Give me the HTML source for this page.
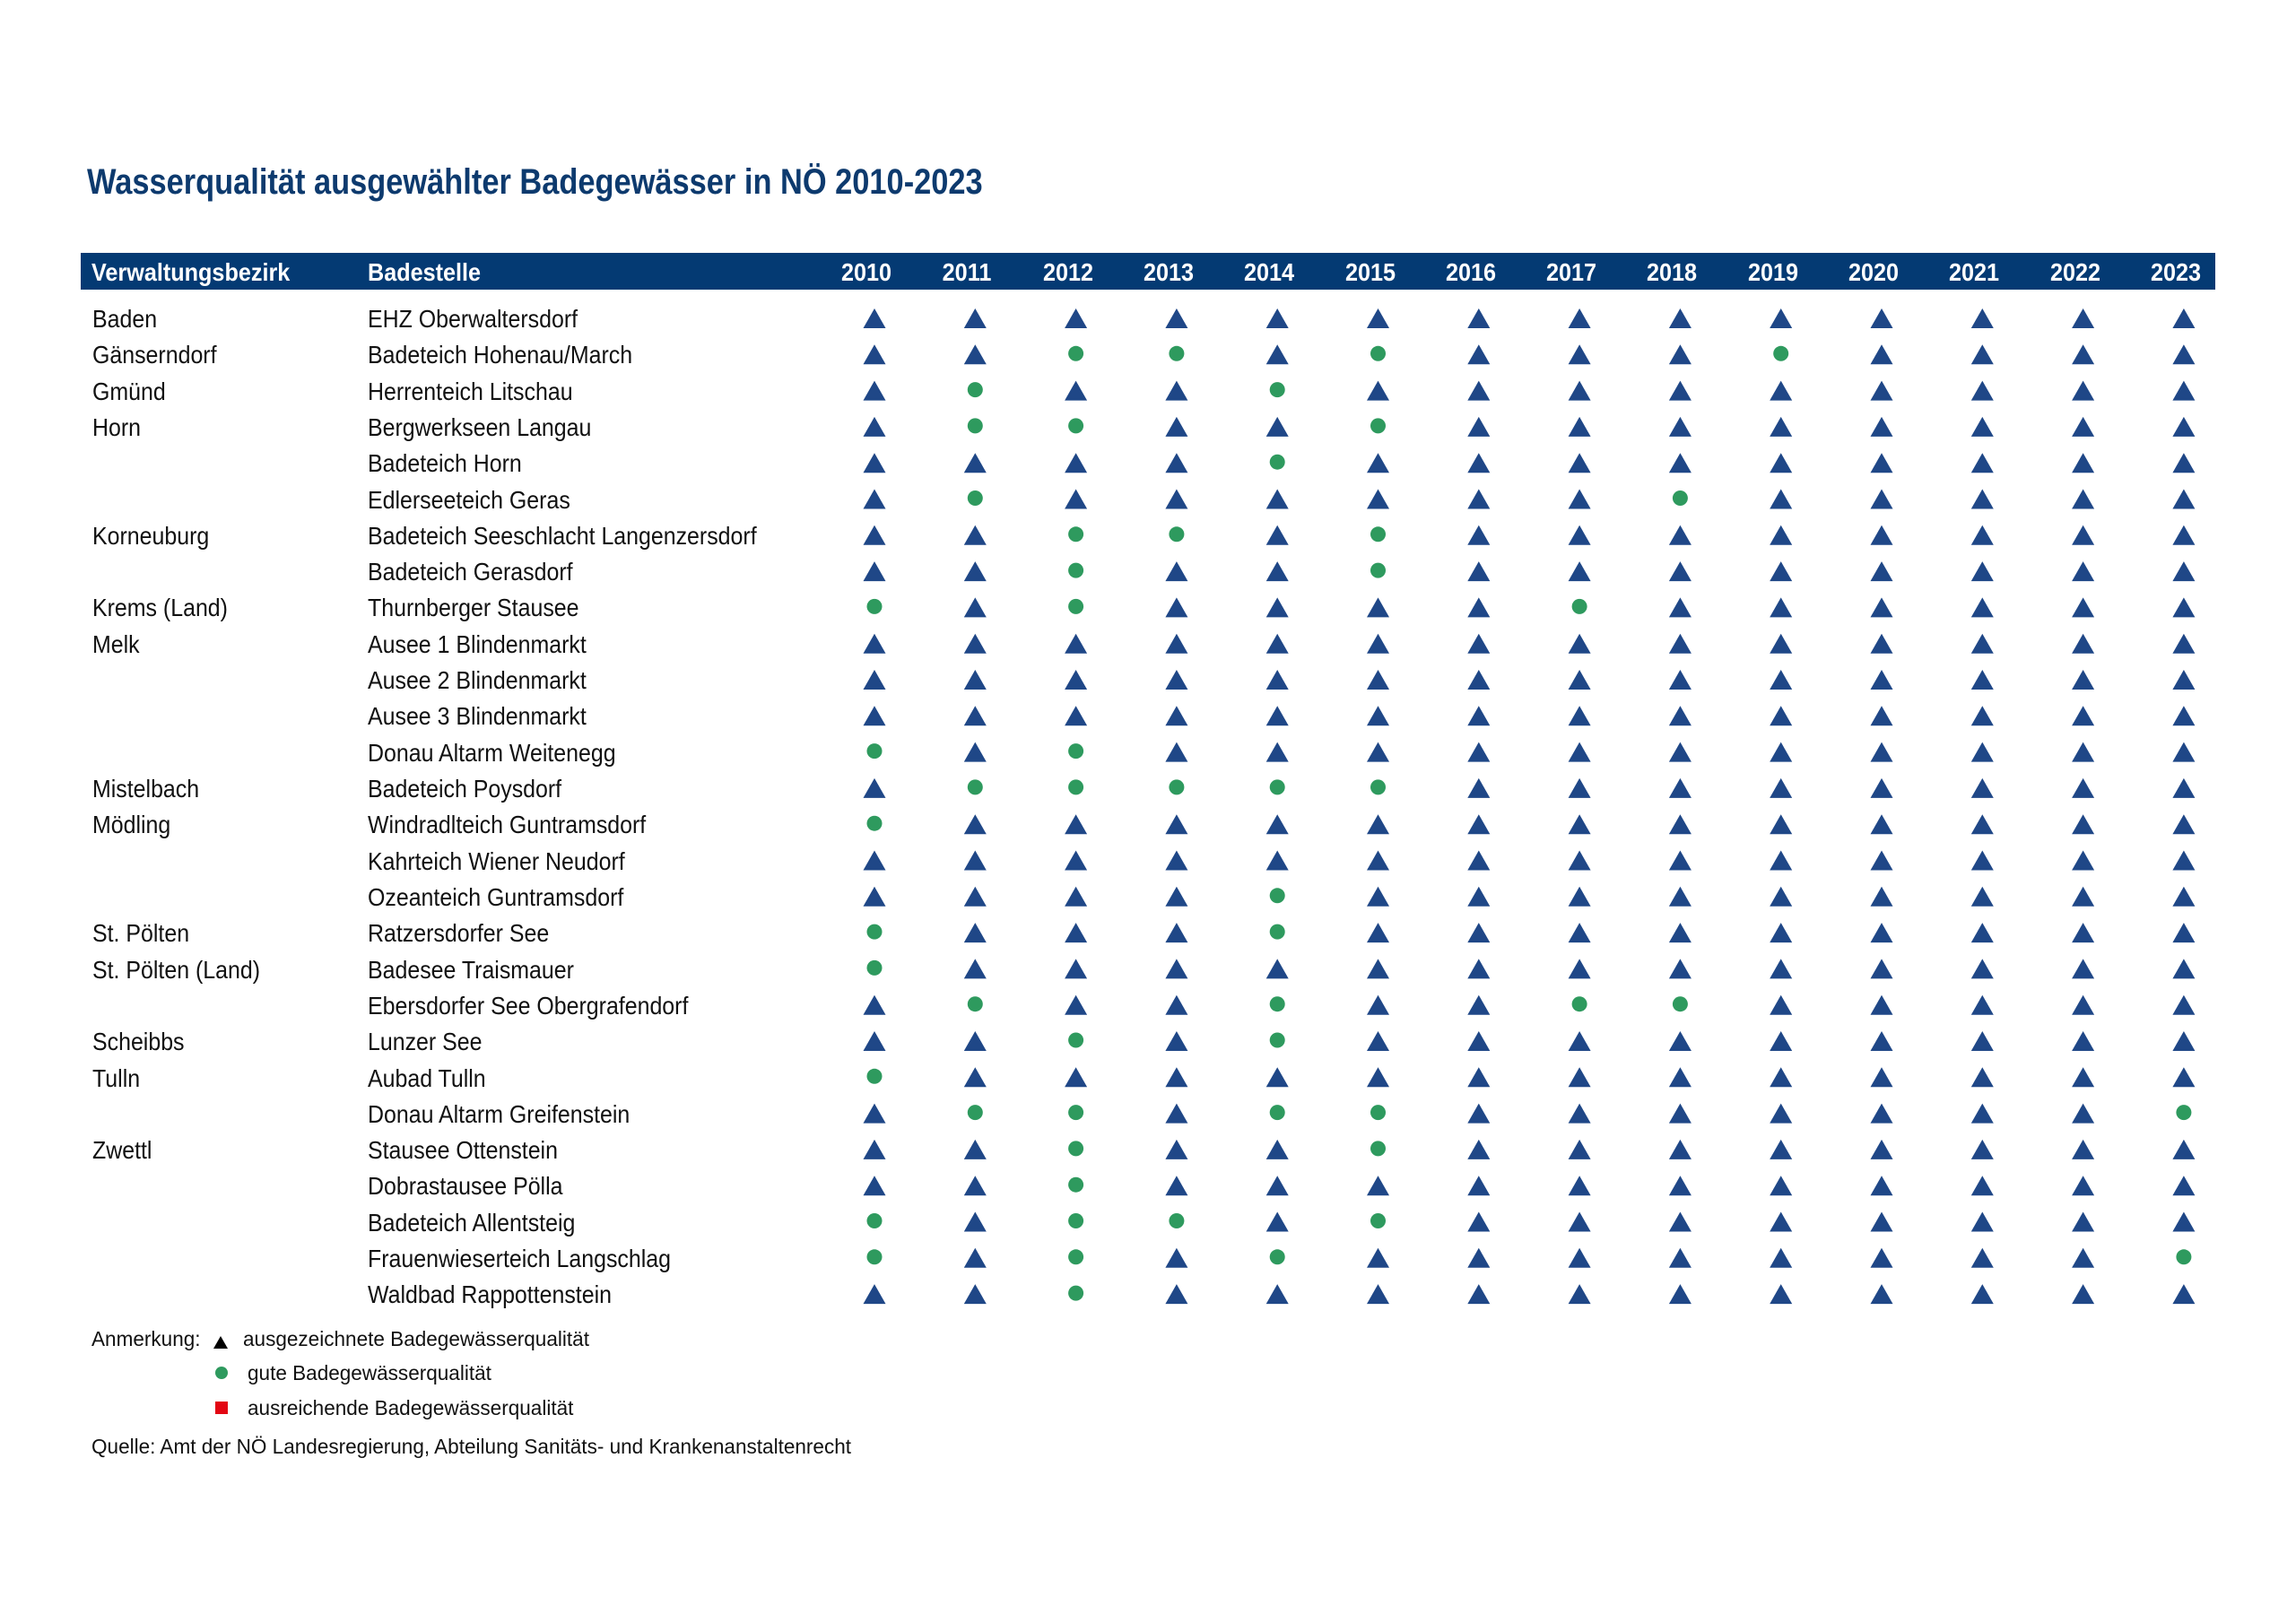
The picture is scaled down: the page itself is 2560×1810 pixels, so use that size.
<!DOCTYPE html>
<html><head><meta charset="utf-8">
<style>
html,body{margin:0;padding:0;background:#fff;}
body{width:2560px;height:1810px;position:relative;overflow:hidden;font-family:"Liberation Sans",sans-serif;}
.t{position:absolute;white-space:nowrap;color:#111;font-size:28px;line-height:1;transform:scaleX(0.89);transform-origin:0 0;margin-top:-3px;}
#title{position:absolute;left:97px;top:181px;font-size:40px;font-weight:bold;color:#0d3a6e;white-space:nowrap;transform:scaleX(0.86);transform-origin:0 0;}
#bar{position:absolute;left:90px;top:282px;width:2380px;height:41px;background:#043a73;}
.h{position:absolute;top:290px;color:#fff;font-weight:bold;font-size:28px;line-height:1;white-space:nowrap;transform:scaleX(0.9);transform-origin:0 0;}
.y{width:100px;margin-left:-50px;text-align:center;transform-origin:50% 0;}
.l{position:absolute;white-space:nowrap;color:#111;font-size:23px;line-height:1;transform:scaleX(0.98);transform-origin:0 0;margin-top:-6px;}
svg{position:absolute;left:0;top:0;}
</style></head><body>
<div id="title">Wasserqualität ausgewählter Badegewässer in NÖ 2010-2023</div>
<div id="bar"></div>
<div class="h" style="left:102px">Verwaltungsbezirk</div>
<div class="h" style="left:410px">Badestelle</div>
<div class="h y" style="left:966px">2010</div>
<div class="h y" style="left:1078px">2011</div>
<div class="h y" style="left:1191px">2012</div>
<div class="h y" style="left:1303px">2013</div>
<div class="h y" style="left:1415px">2014</div>
<div class="h y" style="left:1528px">2015</div>
<div class="h y" style="left:1640px">2016</div>
<div class="h y" style="left:1752px">2017</div>
<div class="h y" style="left:1864px">2018</div>
<div class="h y" style="left:1977px">2019</div>
<div class="h y" style="left:2089px">2020</div>
<div class="h y" style="left:2201px">2021</div>
<div class="h y" style="left:2314px">2022</div>
<div class="h y" style="left:2426px">2023</div>

<div class="t" style="left:103px;top:345px">Baden</div><div class="t" style="left:410px;top:345px">EHZ Oberwaltersdorf</div>
<div class="t" style="left:103px;top:385px">Gänserndorf</div><div class="t" style="left:410px;top:385px">Badeteich Hohenau/March</div>
<div class="t" style="left:103px;top:426px">Gmünd</div><div class="t" style="left:410px;top:426px">Herrenteich Litschau</div>
<div class="t" style="left:103px;top:466px">Horn</div><div class="t" style="left:410px;top:466px">Bergwerkseen Langau</div>
<div class="t" style="left:410px;top:506px">Badeteich Horn</div>
<div class="t" style="left:410px;top:547px">Edlerseeteich Geras</div>
<div class="t" style="left:103px;top:587px">Korneuburg</div><div class="t" style="left:410px;top:587px">Badeteich Seeschlacht Langenzersdorf</div>
<div class="t" style="left:410px;top:627px">Badeteich Gerasdorf</div>
<div class="t" style="left:103px;top:667px">Krems (Land)</div><div class="t" style="left:410px;top:667px">Thurnberger Stausee</div>
<div class="t" style="left:103px;top:708px">Melk</div><div class="t" style="left:410px;top:708px">Ausee 1 Blindenmarkt</div>
<div class="t" style="left:410px;top:748px">Ausee 2 Blindenmarkt</div>
<div class="t" style="left:410px;top:788px">Ausee 3 Blindenmarkt</div>
<div class="t" style="left:410px;top:829px">Donau Altarm Weitenegg</div>
<div class="t" style="left:103px;top:869px">Mistelbach</div><div class="t" style="left:410px;top:869px">Badeteich Poysdorf</div>
<div class="t" style="left:103px;top:909px">Mödling</div><div class="t" style="left:410px;top:909px">Windradlteich Guntramsdorf</div>
<div class="t" style="left:410px;top:950px">Kahrteich Wiener Neudorf</div>
<div class="t" style="left:410px;top:990px">Ozeanteich Guntramsdorf</div>
<div class="t" style="left:103px;top:1030px">St. Pölten</div><div class="t" style="left:410px;top:1030px">Ratzersdorfer See</div>
<div class="t" style="left:103px;top:1071px">St. Pölten (Land)</div><div class="t" style="left:410px;top:1071px">Badesee Traismauer</div>
<div class="t" style="left:410px;top:1111px">Ebersdorfer See Obergrafendorf</div>
<div class="t" style="left:103px;top:1151px">Scheibbs</div><div class="t" style="left:410px;top:1151px">Lunzer See</div>
<div class="t" style="left:103px;top:1192px">Tulln</div><div class="t" style="left:410px;top:1192px">Aubad Tulln</div>
<div class="t" style="left:410px;top:1232px">Donau Altarm Greifenstein</div>
<div class="t" style="left:103px;top:1272px">Zwettl</div><div class="t" style="left:410px;top:1272px">Stausee Ottenstein</div>
<div class="t" style="left:410px;top:1312px">Dobrastausee Pölla</div>
<div class="t" style="left:410px;top:1353px">Badeteich Allentsteig</div>
<div class="t" style="left:410px;top:1393px">Frauenwieserteich Langschlag</div>
<div class="t" style="left:410px;top:1433px">Waldbad Rappottenstein</div>

<div class="l" style="left:102px;top:1488px">Anmerkung:</div>
<div class="l" style="left:271px;top:1488px">ausgezeichnete Badegewässerqualität</div>
<div class="l" style="left:276px;top:1526px">gute Badegewässerqualität</div>
<div class="l" style="left:276px;top:1565px">ausreichende Badegewässerqualität</div>
<div class="l" style="left:102px;top:1608px">Quelle: Amt der NÖ Landesregierung, Abteilung Sanitäts- und Krankenanstaltenrecht</div>

<svg id="s" width="2560" height="1810" xmlns="http://www.w3.org/2000/svg">
<polygon points="238,1504 254,1504 246,1490" fill="#000"/>
<circle cx="247" cy="1531" r="7" fill="#2e9a5e"/>
<rect x="240" y="1563" width="14" height="14" fill="#e30613"/>
</svg>
<script>
var d=["TTTTTTTTTTTTTT","TTCCTCTTTCTTTT","TCTTCTTTTTTTTT","TCCTTCTTTTTTTT","TTTTCTTTTTTTTT","TCTTTTTTCTTTTT","TTCCTCTTTTTTTT","TTCTTCTTTTTTTT","CTCTTTTCTTTTTT","TTTTTTTTTTTTTT","TTTTTTTTTTTTTT","TTTTTTTTTTTTTT","CTCTTTTTTTTTTT","TCCCCCTTTTTTTT","CTTTTTTTTTTTTT","TTTTTTTTTTTTTT","TTTTCTTTTTTTTT","CTTTCTTTTTTTTT","CTTTTTTTTTTTTT","TCTTCTTCCTTTTT","TTCTCTTTTTTTTT","CTTTTTTTTTTTTT","TCCTCCTTTTTTTC","TTCTTCTTTTTTTT","TTCTTTTTTTTTTT","CTCCTCTTTTTTTT","CTCTCTTTTTTTTC","TTCTTTTTTTTTTT"];
var s="";
for(var r=0;r<d.length;r++){var cy=355+r*40.3;
for(var c=0;c<14;c++){var cx=975+c*112.3;
if(d[r][c]=="T"){s+='<polygon points="'+(cx-12.5)+','+(cy+11)+' '+(cx+12.5)+','+(cy+11)+' '+cx+','+(cy-11)+'" fill="#1f4787"/>';}
else{s+='<circle cx="'+cx+'" cy="'+(cy-1)+'" r="8.5" fill="#2e9a5e"/>';}}}
document.getElementById("s").insertAdjacentHTML("beforeend",s);
</script>
</body></html>
